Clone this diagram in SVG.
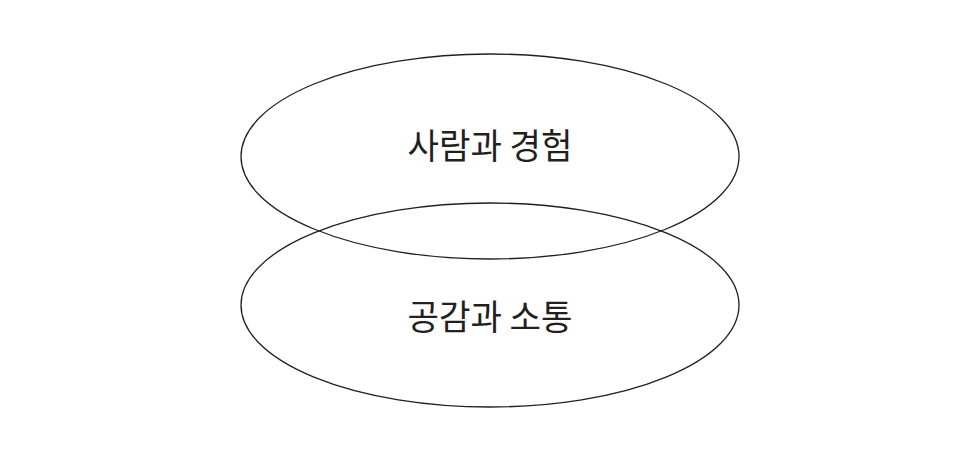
<svg xmlns="http://www.w3.org/2000/svg" width="966" height="469" viewBox="0 0 966 469">
<style>
.e{fill:none;stroke:#231f20;stroke-width:1.3}
.t{font-family:"Noto Sans CJK KR","Noto Sans",sans-serif;font-size:35px;fill:#231f20;text-anchor:middle}
</style>
<rect width="966" height="469" fill="#fff"/>
<g id="node-top">
<ellipse class="e" cx="490" cy="156.5" rx="249" ry="102.5"/>
<text class="t" x="490" y="159" textLength="165" lengthAdjust="spacingAndGlyphs">사람과 경험</text>
</g>
<g id="node-bottom">
<ellipse class="e" cx="490" cy="305" rx="249" ry="102"/>
<text class="t" x="490" y="330" textLength="165" lengthAdjust="spacingAndGlyphs">공감과 소통</text>
</g>
<g id="connectors"></g>
</svg>
